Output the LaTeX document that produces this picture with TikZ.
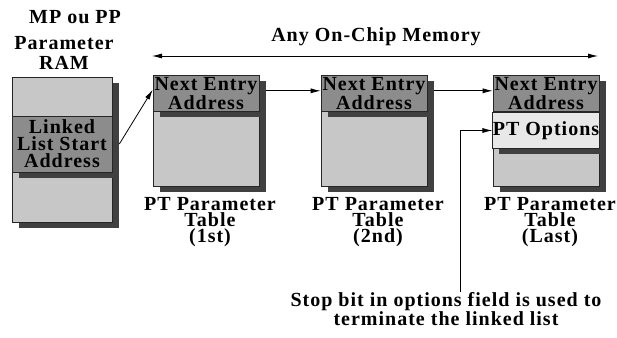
\documentclass[tikz,border=0pt]{standalone}
\usepackage{fontspec}
\setmainfont{Liberation Serif}[LetterSpace=5.0]
\usetikzlibrary{positioning, arrows.meta, shadows}

\begin{document}
\begin{tikzpicture}[x=1pt, y=-1pt, >={Latex[length=10pt,width=5pt]},
    font=\bfseries\fontsize{20}{17}\selectfont,
    box/.style={draw=black!85, line width=0.7pt, inner sep=0pt, minimum width=106pt,
        drop shadow={shadow xshift=6.5pt, shadow yshift=-5.5pt, fill=black!75, opacity=1}},
    body/.style={box, fill=black!22, minimum height=111pt},
    band/.style={box, fill=black!45, minimum height=36pt, align=center},
    lbl/.style={align=center, font=\bfseries\fontsize{20}{16}\selectfont}]
    \useasboundingbox (0,0) rectangle (617,337);

    % parameter RAM
    \node (mpnode) at (75,17) {MP ou PP};
    \node[align=center, font=\bfseries\fontsize{20}{20}\selectfont] (ramtitle) at (64,53) {Parameter\\RAM};
    \node[box, fill=black!22, minimum width=100pt, minimum height=145pt] (ram) at (62,149.5) {};
    \node[band, minimum width=100pt, minimum height=56pt] (ramband) at (62,144) {Linked\\List Start\\Address};

    % the three tables
    \node[body] (tab1) at (206,131.3) {};
    \node[band, anchor=north] (hdr1) at (tab1.north) {Next Entry\\Address};
    \node[body] (tab2) at (374,131.3) {};
    \node[band, anchor=north] (hdr2) at (tab2.north) {Next Entry\\Address};
    \node[body] (tab3) at (546,131.3) {};
    \node[band, anchor=north] (hdr3) at (tab3.north) {Next Entry\\Address};
    \node[band, fill=black!9, anchor=north] (opt3) at (hdr3.south) {PT Options};

    \node[lbl] (cap1) at (210,222) {PT Parameter\\Table\\(1st)};
    \node[lbl] (cap2) at (378,222) {PT Parameter\\Table\\(2nd)};
    \node[lbl] (cap3) at (550,222) {PT Parameter\\Table\\(Last)};

    % memory span
    \node (memtitle) at (376,37) {Any On-Chip Memory};
    \coordinate (memL) at (152,56);
    \coordinate (memR) at (598,56);
    \draw[<->, line width=0.8pt] (memL) -- (memR);

    % links
    \draw[->, line width=0.8pt] ([xshift=7pt]ramband.east) -- ([yshift=4pt]hdr1.west);
    \draw[->, line width=0.8pt] ([xshift=7pt,yshift=3pt]hdr1.east) -- ([yshift=3pt]hdr2.west);
    \draw[->, line width=0.8pt] ([xshift=7pt,yshift=3pt]hdr2.east) -- ([yshift=3pt]hdr3.west);

    % stop bit note
    \node[lbl] (stopnote) at (446,309) {Stop bit in options field is used to\\terminate the linked list};
    \coordinate (stoptop) at (460,292);
    \draw[->, line width=0.8pt] (stoptop) |- (opt3.west);
\end{tikzpicture}
\end{document}
